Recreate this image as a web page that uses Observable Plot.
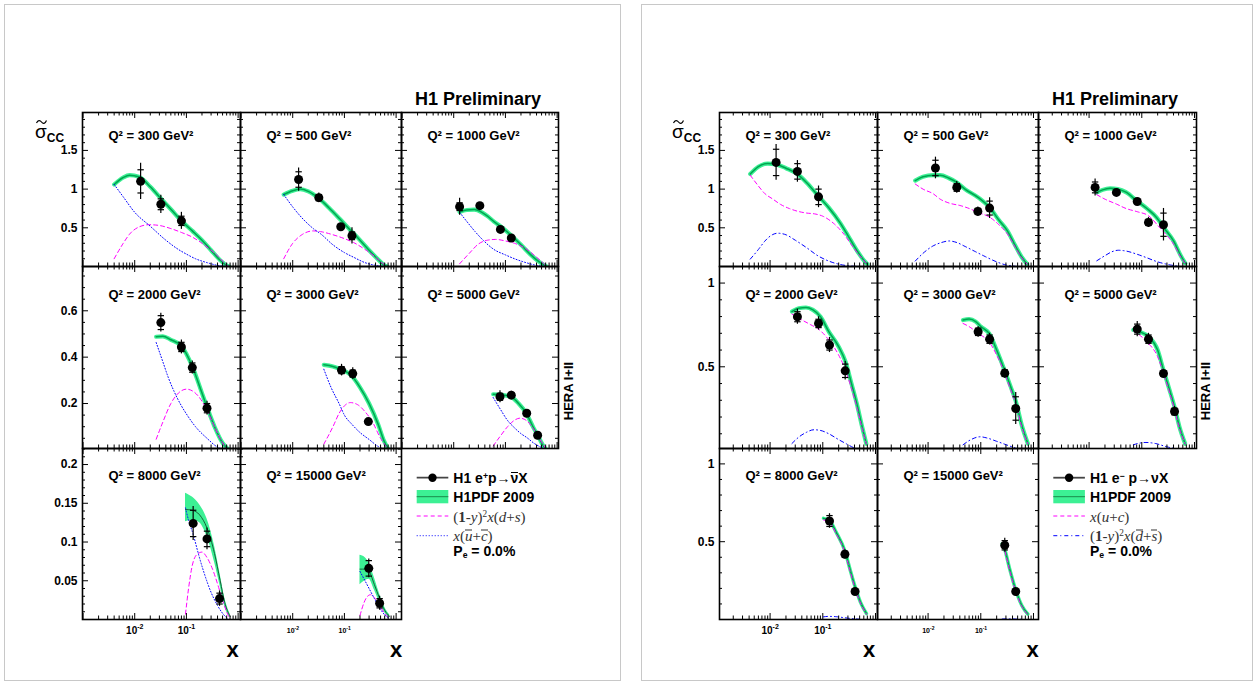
<!DOCTYPE html>
<html><head><meta charset="utf-8">
<script src="https://cdn.jsdelivr.net/npm/d3@7"></script>
<script src="https://cdn.jsdelivr.net/npm/@observablehq/plot@0.6"></script>
<style>
body{margin:0;background:#fff;}
#root{position:relative;width:1258px;height:686px;overflow:hidden;background:#fff;font-family:"Liberation Sans",Arial,Helvetica,sans-serif;}
sup.s{font-size:0.62em;vertical-align:0.5em;line-height:0;}
sub.s{font-size:0.62em;vertical-align:-0.25em;line-height:0;}
.ov{display:inline-block;border-top:1px solid currentColor;line-height:0.75;}
</style></head><body><div id="root"></div>
<script>
// ---------------- DATA : H1 e+p (left) ----------------
// points: [x, sigma_cc, stat err, total err]
const q2Values = [300, 500, 1000, 2000, 3000, 5000, 8000, 15000];
const ep300_pts = [[0.013,1.10,0.15,0.235],[0.032,0.804,0.07,0.118],[0.08,0.59,0.06,0.11]];
const ep300_fit = [[0.004,1.06],[0.006,1.15],[0.008,1.18],[0.012,1.16],[0.02,1.03],[0.032,0.88],[0.05,0.74],[0.08,0.59],[0.13,0.46],[0.2,0.34],[0.3,0.21],[0.45,0.08],[0.58,0.02],[0.66,0]];
const ep300_dv  = [[0.004,0.1],[0.006,0.3],[0.008,0.42],[0.012,0.51],[0.019,0.54],[0.03,0.53],[0.05,0.49],[0.08,0.44],[0.13,0.38],[0.2,0.3],[0.3,0.21],[0.4,0.14],[0.5,0.07],[0.65,0]];
const ep300_sea = [[0.004,1.06],[0.006,0.9],[0.01,0.7],[0.02,0.52],[0.04,0.34],[0.07,0.22],[0.1,0.16],[0.15,0.1],[0.25,0.05],[0.4,0.015],[0.6,0]];

const ep500_pts = [[0.013,1.124,0.10,0.15],[0.032,0.89,0.04,0.06],[0.085,0.513,0.02,0.03],[0.14,0.397,0.05,0.105]];
const ep500_fit = [[0.0067,0.93],[0.01,0.98],[0.014,1.0],[0.02,0.97],[0.032,0.88],[0.05,0.76],[0.08,0.62],[0.13,0.47],[0.2,0.34],[0.3,0.21],[0.45,0.09],[0.58,0.02],[0.67,0]];
const ep500_dv  = [[0.0067,0.1],[0.01,0.3],[0.015,0.41],[0.025,0.46],[0.035,0.45],[0.06,0.41],[0.1,0.36],[0.15,0.31],[0.25,0.22],[0.4,0.12],[0.55,0.04],[0.67,0]];
const ep500_sea = [[0.0067,0.93],[0.01,0.77],[0.015,0.63],[0.025,0.49],[0.035,0.42],[0.06,0.28],[0.1,0.18],[0.15,0.12],[0.25,0.05],[0.4,0.015],[0.6,0]];

const ep1000_pts = [[0.013,0.773,0.05,0.11],[0.032,0.786,0.02,0.03],[0.08,0.479,0.015,0.025],[0.13,0.368,0.015,0.025]];
const ep1000_fit = [[0.013,0.705],[0.018,0.73],[0.025,0.735],[0.035,0.7],[0.045,0.65],[0.06,0.58],[0.08,0.52],[0.13,0.4],[0.2,0.28],[0.3,0.16],[0.45,0.06],[0.63,0]];
const ep1000_dv  = [[0.013,0.035],[0.02,0.17],[0.03,0.29],[0.045,0.34],[0.065,0.35],[0.1,0.33],[0.15,0.3],[0.25,0.23],[0.4,0.12],[0.55,0.04],[0.63,0]];
const ep1000_sea = [[0.013,0.7],[0.018,0.58],[0.026,0.45],[0.037,0.34],[0.06,0.22],[0.1,0.15],[0.15,0.1],[0.25,0.05],[0.4,0.015],[0.6,0]];

const ep2000_pts = [[0.032,0.549,0.03,0.04],[0.08,0.444,0.02,0.03],[0.13,0.355,0.02,0.028],[0.25,0.18,0.02,0.03]];
const ep2000_fit = [[0.026,0.488],[0.035,0.49],[0.05,0.475],[0.08,0.448],[0.13,0.36],[0.2,0.245],[0.25,0.185],[0.35,0.1],[0.5,0.03],[0.66,0]];
const ep2000_dv  = [[0.026,0.046],[0.035,0.12],[0.05,0.2],[0.07,0.245],[0.1,0.262],[0.14,0.25],[0.2,0.21],[0.25,0.17],[0.35,0.1],[0.5,0.03],[0.66,0]];
const ep2000_sea = [[0.026,0.463],[0.035,0.38],[0.045,0.31],[0.057,0.255],[0.08,0.19],[0.1,0.155],[0.15,0.1],[0.25,0.05],[0.4,0.012],[0.6,0]];

const ep3000_pts = [[0.088,0.344,0.015,0.025],[0.145,0.329,0.015,0.025],[0.29,0.122,0.006,0.01]];
const ep3000_fit = [[0.04,0.367],[0.06,0.36],[0.08,0.35],[0.13,0.325],[0.2,0.27],[0.3,0.2],[0.45,0.11],[0.58,0.04],[0.72,0]];
const ep3000_dv  = [[0.04,0.025],[0.06,0.1],[0.08,0.16],[0.1,0.19],[0.13,0.204],[0.18,0.195],[0.25,0.165],[0.35,0.12],[0.5,0.05],[0.72,0]];
const ep3000_sea = [[0.04,0.348],[0.055,0.27],[0.08,0.197],[0.1,0.15],[0.14,0.11],[0.2,0.075],[0.3,0.045],[0.45,0.015],[0.65,0]];

const ep5000_pts = [[0.0785,0.229,0.015,0.026],[0.13,0.236,0.01,0.017],[0.258,0.158,0.006,0.009],[0.42,0.063,0.005,0.008]];
const ep5000_fit = [[0.058,0.24],[0.08,0.238],[0.13,0.228],[0.18,0.2],[0.25,0.16],[0.35,0.095],[0.45,0.05],[0.55,0.015],[0.63,0]];
const ep5000_dv  = [[0.058,0.017],[0.08,0.06],[0.11,0.1],[0.15,0.128],[0.19,0.137],[0.25,0.128],[0.35,0.09],[0.45,0.05],[0.55,0.02],[0.63,0]];
const ep5000_sea = [[0.058,0.226],[0.08,0.175],[0.11,0.127],[0.15,0.095],[0.2,0.07],[0.26,0.053],[0.35,0.03],[0.5,0.01],[0.63,0]];

const ep8000_pts = [[0.135,0.124,0.017,0.022],[0.25,0.104,0.01,0.014],[0.437,0.027,0.007,0.01]];
const ep8000_fit = [[0.096,0.142],[0.13,0.141],[0.18,0.135],[0.25,0.118],[0.35,0.085],[0.45,0.05],[0.55,0.022],[0.7,0.004]];
const ep8000_band = [[0.096,0.126,0.163],[0.13,0.128,0.158],[0.18,0.125,0.148],[0.25,0.107,0.13],[0.35,0.074,0.095],[0.45,0.043,0.058],[0.55,0.017,0.028],[0.7,0.002,0.007]];
const ep8000_dv  = [[0.096,0.007],[0.11,0.04],[0.13,0.07],[0.16,0.084],[0.2,0.087],[0.25,0.08],[0.32,0.065],[0.4,0.046],[0.5,0.025],[0.6,0.01],[0.7,0]];
const ep8000_sea = [[0.096,0.144],[0.11,0.128],[0.135,0.11],[0.17,0.085],[0.22,0.06],[0.3,0.035],[0.4,0.018],[0.5,0.008],[0.65,0]];

const ep15000_pts = [[0.296,0.066,0.01,0.012],[0.48,0.021,0.006,0.009]];
const ep15000_fit = [[0.2,0.065],[0.25,0.065],[0.3,0.062],[0.38,0.045],[0.48,0.027],[0.6,0.012],[0.75,0.004]];
const ep15000_band = [[0.2,0.045,0.083],[0.25,0.05,0.08],[0.3,0.052,0.073],[0.38,0.038,0.054],[0.48,0.022,0.033],[0.6,0.009,0.016],[0.75,0.002,0.006]];
const ep15000_dv  = [[0.2,0.005],[0.24,0.022],[0.28,0.03],[0.32,0.032],[0.38,0.028],[0.48,0.018],[0.6,0.008],[0.75,0.002]];
const ep15000_sea = [[0.2,0.062],[0.25,0.05],[0.3,0.04],[0.38,0.027],[0.48,0.015],[0.6,0.006],[0.75,0.001]];

// ---------------- DATA : H1 e-p (right) ----------------
const em300_pts = [[0.013,1.345,0.17,0.23],[0.033,1.229,0.1,0.14],[0.083,0.90,0.1,0.14]];
const em300_fit = [[0.0042,1.195],[0.006,1.29],[0.009,1.33],[0.013,1.32],[0.02,1.27],[0.033,1.195],[0.05,1.08],[0.08,0.92],[0.13,0.76],[0.21,0.57],[0.3,0.4],[0.45,0.2],[0.6,0.08],[0.7,0.03]];
const em300_uc  = [[0.0042,1.18],[0.006,1.04],[0.008,0.94],[0.011,0.876],[0.016,0.8],[0.023,0.75],[0.035,0.71],[0.05,0.69],[0.07,0.68],[0.1,0.65],[0.165,0.55],[0.25,0.42],[0.35,0.28],[0.5,0.14],[0.7,0.03]];
const em300_ds  = [[0.0042,0.095],[0.006,0.22],[0.008,0.33],[0.011,0.41],[0.014,0.43],[0.02,0.41],[0.03,0.34],[0.05,0.24],[0.08,0.14],[0.13,0.07],[0.2,0.03],[0.3,0.01],[0.5,0]];

const em500_pts = [[0.0138,1.273,0.1,0.14],[0.035,1.022,0.05,0.076],[0.088,0.712,0.04,0.058],[0.147,0.755,0.09,0.135]];
const em500_fit = [[0.0057,1.11],[0.008,1.16],[0.0125,1.18],[0.017,1.18],[0.025,1.14],[0.035,1.087],[0.05,1.0],[0.09,0.89],[0.15,0.755],[0.22,0.6],[0.32,0.46],[0.45,0.27],[0.6,0.12],[0.76,0.03]];
const em500_uc  = [[0.0057,1.066],[0.008,1.0],[0.0125,0.94],[0.017,0.87],[0.025,0.82],[0.042,0.785],[0.06,0.75],[0.088,0.7],[0.15,0.634],[0.22,0.54],[0.32,0.42],[0.45,0.25],[0.6,0.11],[0.76,0.03]];
const em500_ds  = [[0.0057,0.07],[0.008,0.17],[0.012,0.26],[0.018,0.31],[0.025,0.33],[0.035,0.31],[0.05,0.26],[0.08,0.19],[0.12,0.13],[0.2,0.06],[0.3,0.02],[0.45,0.003]];

const em1000_pts = [[0.013,1.022,0.07,0.11],[0.033,0.957,0.025,0.035],[0.082,0.84,0.02,0.03],[0.134,0.57,0.04,0.065],[0.258,0.54,0.15,0.21]];
const em1000_fit = [[0.014,0.957],[0.018,0.99],[0.025,1.01],[0.035,1.0],[0.05,0.96],[0.08,0.85],[0.13,0.74],[0.19,0.634],[0.27,0.49],[0.4,0.33],[0.55,0.14],[0.67,0.04]];
const em1000_uc  = [[0.014,0.928],[0.02,0.87],[0.033,0.807],[0.05,0.75],[0.082,0.708],[0.134,0.656],[0.22,0.5],[0.3,0.4],[0.4,0.29],[0.55,0.12],[0.67,0.04]];
const em1000_ds  = [[0.014,0.074],[0.02,0.14],[0.027,0.19],[0.036,0.21],[0.05,0.2],[0.08,0.16],[0.12,0.117],[0.2,0.06],[0.35,0.02],[0.5,0.003]];

const em2000_pts = [[0.033,0.799,0.03,0.045],[0.083,0.759,0.025,0.04],[0.134,0.63,0.03,0.045],[0.266,0.476,0.04,0.055]];
const em2000_fit = [[0.026,0.83],[0.035,0.85],[0.048,0.854],[0.065,0.84],[0.09,0.8],[0.13,0.71],[0.2,0.62],[0.27,0.53],[0.35,0.4],[0.45,0.27],[0.55,0.15],[0.67,0.04]];
const em2000_uc  = [[0.026,0.815],[0.04,0.78],[0.06,0.75],[0.083,0.725],[0.13,0.66],[0.2,0.57],[0.27,0.48],[0.35,0.37],[0.45,0.25],[0.55,0.14],[0.67,0.04]];
const em2000_ds  = [[0.026,0.042],[0.035,0.08],[0.05,0.11],[0.067,0.124],[0.09,0.12],[0.13,0.1],[0.2,0.065],[0.28,0.04],[0.4,0.015],[0.55,0.005]];

const em3000_pts = [[0.089,0.709,0.022,0.032],[0.147,0.665,0.025,0.035],[0.285,0.462,0.02,0.03],[0.46,0.251,0.07,0.095]];
const em3000_fit = [[0.046,0.779],[0.06,0.785],[0.08,0.77],[0.1,0.74],[0.147,0.695],[0.2,0.6],[0.285,0.476],[0.37,0.38],[0.46,0.297],[0.6,0.15],[0.78,0.042]];
const em3000_uc  = [[0.046,0.759],[0.06,0.74],[0.089,0.7],[0.147,0.645],[0.2,0.57],[0.285,0.46],[0.37,0.36],[0.46,0.28],[0.6,0.14],[0.78,0.04]];
const em3000_ds  = [[0.046,0.034],[0.065,0.065],[0.097,0.082],[0.13,0.075],[0.2,0.055],[0.3,0.035],[0.45,0.015]];

const em5000_pts = [[0.082,0.725,0.03,0.045],[0.134,0.665,0.025,0.035],[0.258,0.46,0.015,0.025],[0.418,0.233,0.02,0.03]];
const em5000_fit = [[0.069,0.72],[0.09,0.71],[0.134,0.68],[0.2,0.6],[0.258,0.48],[0.33,0.37],[0.418,0.26],[0.52,0.14],[0.665,0.04]];
const em5000_uc  = [[0.069,0.715],[0.09,0.69],[0.134,0.64],[0.2,0.56],[0.258,0.46],[0.33,0.355],[0.418,0.245],[0.52,0.13],[0.665,0.04]];
const em5000_ds  = [[0.069,0.034],[0.09,0.044],[0.12,0.048],[0.18,0.042],[0.3,0.022],[0.45,0.01]];

const em8000_pts = [[0.134,0.633,0.035,0.047],[0.263,0.419,0.02,0.03],[0.41,0.18,0.01,0.015]];
const em8000_fit = [[0.103,0.65],[0.134,0.635],[0.18,0.56],[0.263,0.44],[0.33,0.32],[0.41,0.21],[0.52,0.11],[0.675,0.038]];
const em8000_uc  = [[0.103,0.64],[0.134,0.625],[0.18,0.55],[0.263,0.43],[0.33,0.31],[0.41,0.2],[0.52,0.105],[0.675,0.035]];
const em8000_ds  = [[0.103,0.017],[0.13,0.02],[0.18,0.018],[0.25,0.012],[0.35,0.006],[0.5,0.002]];

const em15000_pts = [[0.285,0.477,0.03,0.045],[0.46,0.18,0.01,0.015]];
const em15000_fit = [[0.255,0.487],[0.285,0.45],[0.35,0.33],[0.46,0.19],[0.6,0.09],[0.78,0.035]];
const em15000_uc  = [[0.255,0.48],[0.285,0.44],[0.35,0.32],[0.46,0.18],[0.6,0.085],[0.78,0.032]];
const em15000_ds  = [[0.255,0.003],[0.3,0.004],[0.45,0.003],[0.6,0.001]];

// tick labels
const xTickValues = [0.01, 0.1];
const xTickExp = ["-2", "-1"];

// ---------------- LAYOUT ----------------
const FONT = "Liberation Sans, Arial, Helvetica, sans-serif";
const leftCols = [82, 240, 401, 558];
const rightCols = [719, 877, 1038, 1196];
const rowEdges = [112, 266, 448, 619];
const leftY = [
  {dom:[0,1.99], maj:[0.5,1,1.5], step:0.1},
  {dom:[0.006,0.791], maj:[0.2,0.4,0.6], step:0.05},
  {dom:[0,0.2207], maj:[0.05,0.1,0.15,0.2], step:0.01}
];
const rightY = [
  {dom:[0,1.99], maj:[0.5,1,1.5], step:0.1},
  {dom:[0.012,1.099], maj:[0.5,1], step:0.1},
  {dom:[0,1.099], maj:[0.5,1], step:0.1}
];
const titleDy = [18.5, 23, 22];
const BAND = "#3cf094", FITC = "#00a550";

const root = document.getElementById("root");
const hbar = {draw(ctx, size){ const w = Math.sqrt(size)*0.6; ctx.moveTo(-w,0); ctx.lineTo(w,0); }};

function panel(fig, r, c, q2, pts, fit, c1, c2, band) {
  const cols = fig === "L" ? leftCols : rightCols;
  const L = cols[c], R = cols[c+1], T = rowEdges[r], B = rowEdges[r+1];
  const W = R - L, H = B - T;
  const pxDec = fig === "L" ? 51.7 : 52.7, lo = fig === "L" ? -3.01 : -2.96;
  const xdom = [10**lo, 10**(lo + W/pxDec)];
  const yc = (fig === "L" ? leftY : rightY)[r];
  const xMaj = [0.001, 0.01, 0.1, 1].filter(v => v > xdom[0] && v < xdom[1]);
  const xMin = [];
  for (let k = -3; k <= 0; k++) for (let m = 2; m <= 9; m++) { const v = m * 10**k; if (v > xdom[0] && v < xdom[1]) xMin.push(v); }
  const yMin = [];
  const n = Math.floor(yc.dom[1]/yc.step + 1e-9);
  for (let i = 1; i <= n; i++) { const v = +(i*yc.step).toFixed(4); if (v > yc.dom[0] && !yc.maj.includes(v)) yMin.push(v); }

  const cOpt = {x: d => d[0], y: d => d[1], curve: "monotone-x", clip: true};
  const marks = [];
  if (band) {
    marks.push(Plot.areaY(band, {x: d => d[0], y1: d => d[1], y2: d => d[2], fill: BAND, curve: "monotone-x", clip: true}));
    marks.push(Plot.line(fit, {...cOpt, stroke: "#16603a", strokeWidth: 1}));
  } else {
    marks.push(Plot.line(fit, {...cOpt, stroke: BAND, strokeWidth: (fig === "R" && r === 2) ? 3.5 : 4.2}));
    marks.push(Plot.line(fit, {...cOpt, stroke: FITC, strokeWidth: 1.5}));
  }
  marks.push(Plot.line(c1, {...cOpt, stroke: "#ff00ff", strokeWidth: 1, strokeDasharray: "4,3"}));
  marks.push(Plot.line(c2, {...cOpt, stroke: "#0000ff", strokeWidth: 1, strokeDasharray: fig === "L" ? "1,2" : "4,3,1,3"}));
  // error bars and points
  marks.push(Plot.ruleX(pts, {x: d => d[0], y1: d => d[1]-d[3], y2: d => d[1]+d[3], stroke: "#000", strokeWidth: 1.2}));
  const statEnds = pts.flatMap(d => [[d[0], d[1]-d[2]], [d[0], d[1]+d[2]]]);
  marks.push(Plot.dot(statEnds, {x: d => d[0], y: d => d[1], symbol: hbar, r: 3, stroke: "#000", strokeWidth: 1.2, fill: "none"}));
  marks.push(Plot.dot(pts, {x: d => d[0], y: d => d[1], r: 4.5, fill: "#000", stroke: "none"}));
  // ticks (inward, on all four sides)
  const tk = {stroke: "#000", strokeWidth: 1};
  marks.push(Plot.tickX(xMaj, {x: d => d, insetTop: H - 6, ...tk}));
  marks.push(Plot.tickX(xMaj, {x: d => d, insetBottom: H - 6, ...tk}));
  marks.push(Plot.tickX(xMin, {x: d => d, insetTop: H - 3.5, ...tk}));
  marks.push(Plot.tickX(xMin, {x: d => d, insetBottom: H - 3.5, ...tk}));
  marks.push(Plot.tickY(yc.maj, {y: d => d, insetRight: W - 6, ...tk}));
  marks.push(Plot.tickY(yc.maj, {y: d => d, insetLeft: W - 6, ...tk}));
  marks.push(Plot.tickY(yMin, {y: d => d, insetRight: W - 3, ...tk}));
  marks.push(Plot.tickY(yMin, {y: d => d, insetLeft: W - 3, ...tk}));
  marks.push(Plot.frame({stroke: "#000", strokeWidth: 1.6}));
  // y labels
  if (c === 0) marks.push(Plot.text(yc.maj, {y: d => d, text: d => String(d), frameAnchor: "left", textAnchor: "end", dx: -5, fontSize: 12, fontWeight: "bold", fill: "#000"}));
  // x labels
  if (r === 2) {
    const small = c === 1;
    const fb = small ? 7 : 10, fs = small ? 5 : 7;
    const off = small ? 1.9 : 2.5;
    marks.push(Plot.text(xTickValues, {x: d => d, text: () => "10", frameAnchor: "bottom", lineAnchor: "top", textAnchor: "end", dx: off, dy: small ? 9 : 7.4, fontSize: fb, fontWeight: "bold", fill: "#000"}));
    marks.push(Plot.text(xTickValues, {x: d => d, text: (d, i) => xTickExp[i], frameAnchor: "bottom", lineAnchor: "top", textAnchor: "start", dx: off, dy: small ? 6.5 : 5, fontSize: fs, fontWeight: "bold", fill: "#000"}));
  }
  // title
  marks.push(Plot.text([`Q² = ${q2} GeV²`], {text: d => d, frameAnchor: "top-left", textAnchor: "start", dx: 26, dy: titleDy[r], fontSize: 13, fontWeight: "bold", fill: "#000"}));

  const svg = Plot.plot({
    width: W, height: H, margin: 0,
    x: {type: "log", domain: xdom, axis: null},
    y: {domain: yc.dom, axis: null},
    style: {background: "transparent", overflow: "visible", fontFamily: FONT},
    marks
  });
  const d = document.createElement("div");
  Object.assign(d.style, {position: "absolute", left: L + "px", top: T + "px", width: W + "px", height: H + "px"});
  d.appendChild(svg);
  root.appendChild(d);
}

function label(html, x, y, css, mode) {
  const d = document.createElement("div");
  d.innerHTML = html;
  Object.assign(d.style, {position: "absolute", left: x + "px", top: y + "px", whiteSpace: "nowrap", lineHeight: "1", fontFamily: FONT, color: "#000"}, css || {});
  d.style.transform = mode === "center" ? "translate(-50%,-50%)" : mode === "rot" ? "translate(-50%,-50%) rotate(-90deg)" : "translate(0,-50%)";
  root.appendChild(d);
}

// canvas borders
for (const [x, w] of [[4, 617], [641, 612]]) {
  const b = document.createElement("div");
  Object.assign(b.style, {position: "absolute", left: x + "px", top: 4 + "px", width: w + "px", height: 677 + "px", border: "1.5px solid #c8c8c8", boxSizing: "border-box"});
  root.appendChild(b);
}

// left figure panels
panel("L", 0, 0, q2Values[0], ep300_pts, ep300_fit, ep300_dv, ep300_sea);
panel("L", 0, 1, q2Values[1], ep500_pts, ep500_fit, ep500_dv, ep500_sea);
panel("L", 0, 2, q2Values[2], ep1000_pts, ep1000_fit, ep1000_dv, ep1000_sea);
panel("L", 1, 0, q2Values[3], ep2000_pts, ep2000_fit, ep2000_dv, ep2000_sea);
panel("L", 1, 1, q2Values[4], ep3000_pts, ep3000_fit, ep3000_dv, ep3000_sea);
panel("L", 1, 2, q2Values[5], ep5000_pts, ep5000_fit, ep5000_dv, ep5000_sea);
panel("L", 2, 0, q2Values[6], ep8000_pts, ep8000_fit, ep8000_dv, ep8000_sea, ep8000_band);
panel("L", 2, 1, q2Values[7], ep15000_pts, ep15000_fit, ep15000_dv, ep15000_sea, ep15000_band);
// right figure panels
panel("R", 0, 0, q2Values[0], em300_pts, em300_fit, em300_uc, em300_ds);
panel("R", 0, 1, q2Values[1], em500_pts, em500_fit, em500_uc, em500_ds);
panel("R", 0, 2, q2Values[2], em1000_pts, em1000_fit, em1000_uc, em1000_ds);
panel("R", 1, 0, q2Values[3], em2000_pts, em2000_fit, em2000_uc, em2000_ds);
panel("R", 1, 1, q2Values[4], em3000_pts, em3000_fit, em3000_uc, em3000_ds);
panel("R", 1, 2, q2Values[5], em5000_pts, em5000_fit, em5000_uc, em5000_ds);
panel("R", 2, 0, q2Values[6], em8000_pts, em8000_fit, em8000_uc, em8000_ds);
panel("R", 2, 1, q2Values[7], em15000_pts, em15000_fit, em15000_uc, em15000_ds);

// texts
for (const [x0, L0] of [[415, 82], [1052, 719]]) {
  label("H1 Preliminary", x0, 99, {fontSize: "18px", fontWeight: "bold"});
  label('<span style="position:relative;font-size:19px">σ<svg width="11" height="5" style="position:absolute;left:1px;top:-1px;overflow:visible"><path d="M0.5,3.5 C2,0.5 4,0.5 5.5,2.5 S9,4.5 10.5,1" fill="none" stroke="#000" stroke-width="1.2"/></svg></span><span style="font-size:12px;font-weight:bold;position:relative;top:4px">CC</span>', L0 - 47, 131, {});
}
label("HERA I+II", 568, 391, {fontSize: "13px", fontWeight: "bold"}, "rot");
label("HERA I+II", 1205, 391, {fontSize: "13px", fontWeight: "bold"}, "rot");
for (const x of [232.5, 396, 869, 1032.5]) label("x", x, 650, {fontSize: "22px", fontWeight: "bold"}, "center");

// legends
function legend(sx, tx, entries) {
  const svgNS = "http://www.w3.org/2000/svg";
  const s = document.createElementNS(svgNS, "svg");
  s.setAttribute("width", 1258); s.setAttribute("height", 686);
  s.style.position = "absolute"; s.style.left = "0"; s.style.top = "0";
  const x1 = sx, x2 = sx + 31.6, xm = sx + 15.8;
  s.innerHTML = `
    <line x1="${x1}" x2="${x2}" y1="477.7" y2="477.7" stroke="#444" stroke-width="1.8"/>
    <circle cx="${xm}" cy="477.7" r="4.2" fill="#000"/>
    <rect x="${x1}" y="490" width="31.6" height="13.3" fill="${BAND}"/>
    <line x1="${x1}" x2="${x2}" y1="496.7" y2="496.7" stroke="#1a8a4a" stroke-width="1"/>
    <line x1="${x1}" x2="${x2}" y1="516" y2="516" stroke="#ff00ff" stroke-width="1" stroke-dasharray="4,3"/>
    <line x1="${x1}" x2="${x2}" y1="535.7" y2="535.7" stroke="#0000ff" stroke-width="1" stroke-dasharray="${entries.dash}"/>`;
  root.appendChild(s);
  label(entries.t1, tx, 478, {fontSize: "14px", fontWeight: "bold"});
  label("H1PDF 2009", tx, 497, {fontSize: "14px", fontWeight: "bold"});
  label(entries.t3, tx, 517, {fontSize: "15px", fontFamily: "Liberation Serif, Times New Roman, serif", color: "#333"});
  label(entries.t4, tx, 536, {fontSize: "15px", fontFamily: "Liberation Serif, Times New Roman, serif", color: "#333"});
  label('P<sub class="s">e</sub> = 0.0%', tx, 551, {fontSize: "14px", fontWeight: "bold"});
}
legend(416.7, 453.3, {
  t1: 'H1 e<sup class="s">+</sup>p→<span class="ov">ν</span>X',
  t3: '(<b>1</b>-<i>y</i>)<sup class="s">2</sup><i>x</i>(<i>d</i>+<i>s</i>)',
  t4: '<i>x</i>(<i class="ov">u</i>+<i class="ov">c</i>)',
  dash: "1,2"
});
legend(1053.3, 1090, {
  t1: 'H1 e<sup class="s">−</sup> p→νX',
  t3: '<i>x</i>(<i>u</i>+<i>c</i>)',
  t4: '(<b>1</b>-<i>y</i>)<sup class="s">2</sup><i>x</i>(<i class="ov">d</i>+<i class="ov">s</i>)',
  dash: "4,3,1,3"
});
</script></body></html>
